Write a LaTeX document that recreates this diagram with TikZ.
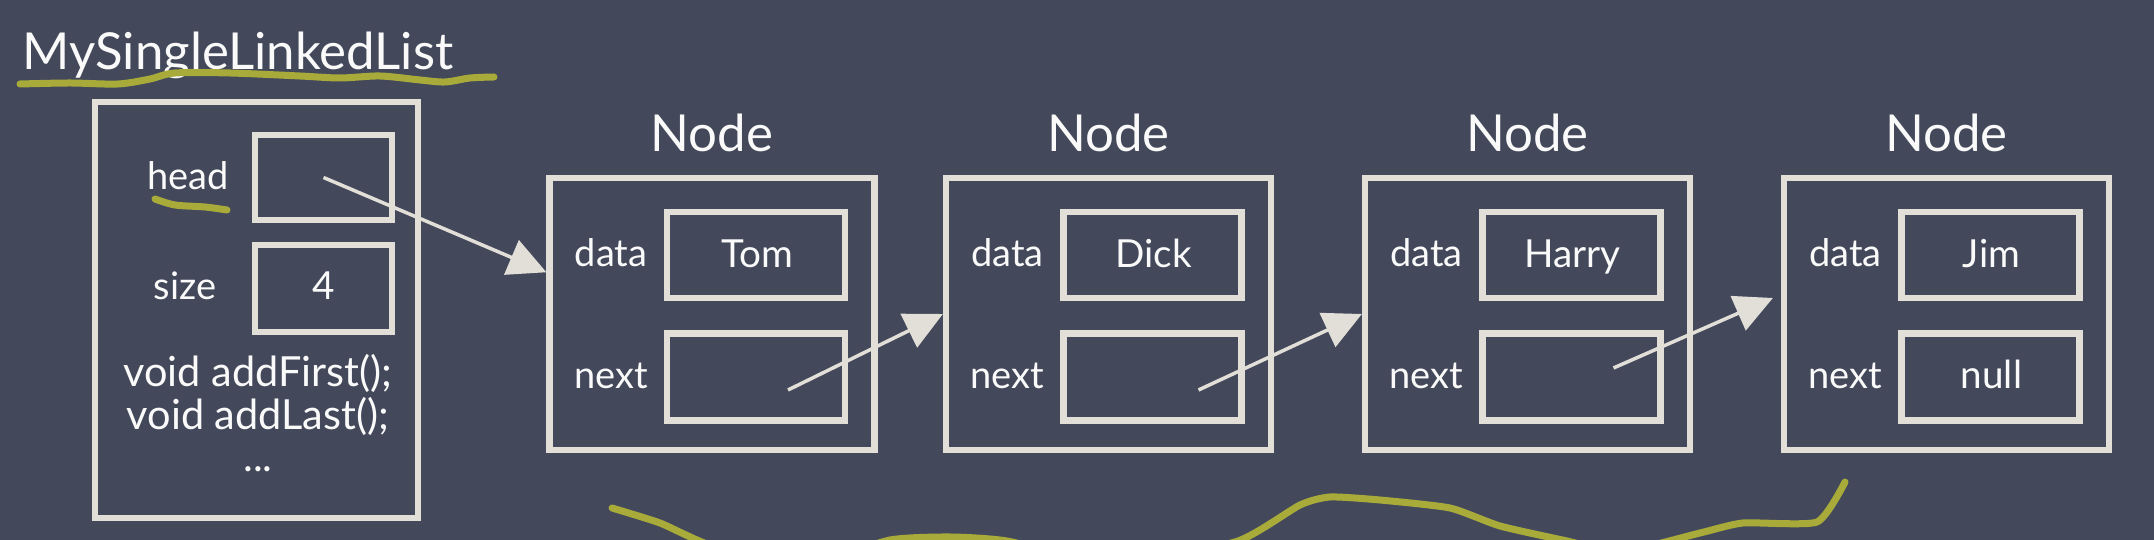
\documentclass[tikz,border=0pt]{standalone}
\usepackage{fontspec}
\setmainfont{Lato}
\usetikzlibrary{arrows.meta,calc}

\begin{document}
\begin{tikzpicture}[x=0.1mm, y=-0.1mm,
    every node/.style={text=chalktext, inner sep=0pt},
    chalkbox/.style={draw=chalk, line width=0.62mm, rectangle},
    titletxt/.style={font=\fontsize{14.5}{17}\selectfont},
    fieldtxt/.style={font=\fontsize{10.8}{13}\selectfont},
    valtxt/.style={font=\fontsize{11}{13}\selectfont},
    methodtxt/.style={font=\fontsize{11.8}{14}\selectfont},
    chalkarrow/.style={draw=chalk, line width=0.35mm,
      -{Triangle[length=3.8mm, width=3.7mm, fill=chalk]}},
    marker/.style={draw=marker, line width=0.7mm, line cap=round, line join=round}]
  % Colors
  \definecolor{board}{RGB}{67,73,91}
  \definecolor{chalk}{RGB}{226,223,216}
  \definecolor{chalktext}{RGB}{250,250,250}
  \definecolor{marker}{RGB}{168,170,58}

  % Chalkboard
  \useasboundingbox (0,0) rectangle (2154,540);
  \fill[board] (0,0) rectangle (2154,540);
  \clip (0,0) rectangle (2154,540);

  % List object
  \node[titletxt, anchor=base west] (title) at (22,70) {MySingleLinkedList};
  \node[chalkbox, minimum width=32.3mm, minimum height=41.6mm] (list) at (256.5,310) {};
  \node[chalkbox, minimum width=13.7mm, minimum height=8.5mm] (head) at (323.5,177.5) {};
  \node[chalkbox, minimum width=13.7mm, minimum height=8.7mm] (size) at (323.5,288.5) {};
  \node[fieldtxt, anchor=base] (headlbl) at (188,190) {head};
  \node[fieldtxt, anchor=base] (sizelbl) at (185,300) {size};
  \node[valtxt, anchor=base] (sizeval) at (size |- sizelbl.base) {4};
  \node[methodtxt, anchor=base] (add1) at (258,387) {void addFirst();};
  \node[methodtxt, anchor=base] (add2) at (258,430) {void addLast();};
  \node[methodtxt, anchor=base] (more) at (258,472) {...};

  % Nodes of the list
  \foreach \n/\cx/\val in {1/712/Tom, 2/1108.5/Dick, 3/1527.5/Harry, 4/1946.5/Jim} {
    \node[titletxt, anchor=base] (t\n) at (\cx,152) {Node};
    \node[chalkbox, minimum width=32.5mm, minimum height=27.2mm] (n\n) at (\cx,314) {};
    \node[chalkbox, minimum width=17.8mm, minimum height=8.6mm] (n\n data) at (\cx+44,255) {};
    \node[chalkbox, minimum width=17.8mm, minimum height=8.7mm] (n\n next) at (\cx+44,377) {};
    \node[fieldtxt, anchor=base] (n\n dl) at (\cx-101,267) {data};
    \node[fieldtxt, anchor=base] (n\n nl) at (\cx-101,389) {next};
    \node[valtxt, anchor=base] (n\n val) at (\cx+45,268) {\val};
  }
  \node[valtxt, anchor=base] (nullval) at (1991.5,389) {null};

  % References
  \coordinate (p1) at ($(n1next)+(32,13)$);
  \coordinate (p2) at ($(n2next)+(46,13)$);
  \coordinate (p3) at ($(n3next)+(42,-9)$);
  \draw[chalkarrow] (head.center) -- ($(n1.north west)!0.35!(n1.south west)$);
  \draw[chalkarrow] (p1) -- (n2.west);
  \draw[chalkarrow] (p2) -- (n3.west);
  \draw[chalkarrow] (p3) -- ($(n4.west)+(-8,-16)$);

  % Highlighter marks
  \draw[marker] plot[smooth, tension=0.5] coordinates {(20,84) (70,83) (118,84) (150,79)
    (175,73) (230,73) (300,76) (340,78) (380,76) (420,80) (445,82) (470,78) (494,77)};
  \draw[marker] plot[smooth, tension=0.5] coordinates {(155,199) (175,205) (205,207)
    (227,210)};
  \draw[marker] plot[smooth, tension=0.35] coordinates {(612,508) (660,523)
    (710,545) (800,565) (890,540) (950,537) (1007,541) (1120,565) (1238,541) (1300,505)
    (1330,497) (1380,500) (1450,508) (1500,526) (1567,541) (1620,552) (1700,533)
    (1743,523) (1817,522) (1845,482)};
\end{tikzpicture}
\end{document}
